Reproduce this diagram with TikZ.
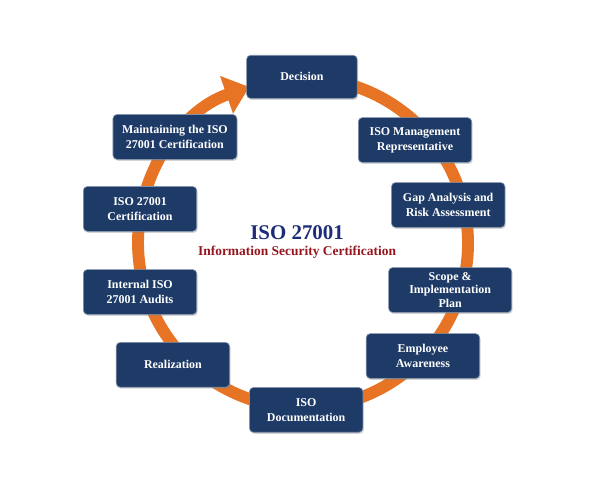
\documentclass[tikz,border=0pt]{standalone}
\usepackage{fontspec}
\setmainfont{Liberation Serif}
\usepackage{tikz}
\usetikzlibrary{arrows.meta, shadows}
\definecolor{isonavy}{RGB}{30, 58, 102}
\definecolor{ringorange}{RGB}{230, 116, 36}
\definecolor{titleblue}{RGB}{28, 44, 120}
\definecolor{titlered}{RGB}{150, 22, 32}
\tikzstyle{stage} = [rectangle, rounded corners=4pt, fill=isonavy, draw=isonavy!55!white, line width=0.6pt, text=white, font=\fontsize{12}{15}\selectfont\bfseries, align=center, minimum width=4cm, minimum height=1.58cm, inner sep=2pt, drop shadow={opacity=0.35, shadow xshift=1pt, shadow yshift=-1.5pt}]
\tikzstyle{ring} = [line width=0.42cm, ringorange, -{Triangle[length=0.85cm, width=1.35cm]}]

\begin{document}
\begin{tikzpicture}
    \useasboundingbox (-10.69,-8.75) rectangle (10.30,8.57);

    % Cycle ring
    \draw[ring] (457:5.82) arc[start angle=457, end angle=109, radius=5.82];

    % Stages
    \node[stage, minimum width=3.9cm, minimum height=1.52cm] (decision) at (-0.04, 5.86) {Decision};
    \node[stage] (mgmtrep) at (3.95, 3.63) {ISO Management\\Representative};
    \node[stage] (gapanalysis) at (5.12, 1.34) {Gap Analysis and\\Risk Assessment};
    \node[stage, minimum width=4.34cm, font=\fontsize{12}{13.5}\selectfont\bfseries] (scopeplan) at (5.19, -1.66) {Scope \&\\Implementation\\Plan};
    \node[stage] (awareness) at (4.23, -3.99) {Employee\\Awareness};
    \node[stage] (documentation) at (0.11, -5.89) {ISO\\Documentation};
    \node[stage] (realization) at (-4.59, -4.30) {Realization};
    \node[stage] (audits) at (-5.75, -1.73) {Internal ISO\\27001 Audits};
    \node[stage] (certification) at (-5.75, 1.20) {ISO 27001\\Certification};
    \node[stage, minimum width=4.37cm] (maintaining) at (-4.52, 3.74) {Maintaining the ISO\\27001 Certification};

    % Title
    \node[font=\fontsize{21}{24}\selectfont\bfseries, text=titleblue] (title) at (-0.21, 0.35) {ISO 27001};
    \node[font=\fontsize{13.5}{16}\selectfont\bfseries, text=titlered] (subtitle) at (-0.21, -0.32) {Information Security Certification};
\end{tikzpicture}
\end{document}
